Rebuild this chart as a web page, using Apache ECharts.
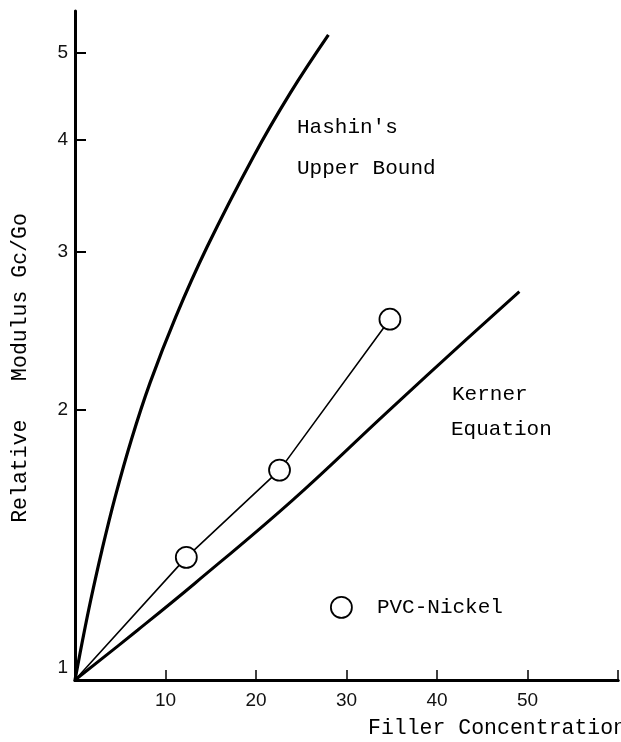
<!DOCTYPE html>
<html>
<head>
<meta charset="utf-8">
<script src="https://cdn.jsdelivr.net/npm/echarts@6/dist/echarts.min.js"></script>
<style>
  html, body { margin: 0; padding: 0; background: #fff; }
  #chart { width: 621px; height: 742px; }
</style>
</head>
<body>
<div id="chart"></div>
<script>
// Hashin's upper bound (filler concentration, relative modulus Gc/Go)
const hashinX = [0, 0.84, 1.74, 2.98, 4.44, 6.22, 8.29, 11.12, 14.59, 19.70, 23.78, 28.0];
const hashinY = [1, 1.108, 1.228, 1.396, 1.600, 1.852, 2.144, 2.539, 3.039, 3.830, 4.511, 5.238];

// Kerner equation
const kernerX = [0, 6.94, 13.26, 24.08, 34.35, 43.16, 49.1];
const kernerY = [1, 1.137, 1.282, 1.588, 1.983, 2.393, 2.710];

// Measured PVC-Nickel points (first entry is the common origin)
const pvcX = [0, 12.3, 22.6, 34.8];
const pvcY = [1, 1.37, 1.714, 2.525];

// Axis ticks
const yTickValues = [1, 2, 3, 4, 5];
const xTickLabels = [10, 20, 30, 40, 50];

const MONO = '"Liberation Mono", "DejaVu Sans Mono", monospace';
const SANS = '"Liberation Sans", Arial, sans-serif';

// The modulus axis is logarithmic: values are plotted as log10 on a linear axis
const lg = v => Math.log10(v);
const toPairs = (xs, ys) => xs.map((x, i) => [x, lg(ys[i])]);
const yMin = 0;
const yMax = lg(5.57);
const yTicks = yTickValues.map(lg);

const chart = echarts.init(document.getElementById('chart'), null, { renderer: 'canvas' });

const option = {
  animation: false,
  backgroundColor: '#fff',
  grid: { left: 75, top: 11, width: 545, height: 669 },
  xAxis: [
    {
      type: 'value', min: 0, max: 60, interval: 10,
      axisLine: { show: true, lineStyle: { color: '#000', width: 3 } },
      axisTick: { show: true, inside: true, length: 10, lineStyle: { color: '#000', width: 1.5 } },
      axisLabel: {
        margin: 11, color: '#111', fontFamily: SANS, fontSize: 19,
        formatter: v => (xTickLabels.indexOf(v) >= 0 ? String(v) : '')
      },
      splitLine: { show: false }
    },
    {
      type: 'value', position: 'top', min: 0, max: 60,
      axisLine: { show: true, lineStyle: { color: '#000', width: 3 } },
      axisTick: { show: false }, axisLabel: { show: false }, splitLine: { show: false }
    }
  ],
  yAxis: [
    {
      type: 'value', min: yMin, max: yMax,
      axisLine: { show: true, lineStyle: { color: '#000', width: 3 } },
      axisTick: { show: true, inside: true, length: 11, customValues: yTicks, lineStyle: { color: '#000', width: 2 } },
      axisLabel: {
        customValues: yTicks, margin: 7, color: '#111', fontFamily: SANS, fontSize: 19,
        formatter: v => {
          const n = Math.round(Math.pow(10, v));
          return n === 1 ? '{lo|1}' : String(n);
        },
        rich: { lo: { fontFamily: SANS, fontSize: 19, color: '#111', padding: [0, 0, 24, 0] } }
      },
      splitLine: { show: false }
    },
    {
      type: 'value', position: 'right', min: yMin, max: yMax,
      axisLine: { show: true, lineStyle: { color: '#000', width: 1.5 } },
      axisTick: { show: false }, axisLabel: { show: false }, splitLine: { show: false }
    }
  ],
  legend: {
    data: ['PVC-Nickel'],
    left: 330, top: 596, padding: 0,
    icon: 'circle', itemWidth: 21, itemHeight: 21,
    itemStyle: { color: '#fff', borderColor: '#000', borderWidth: 1.8 },
    textStyle: { fontFamily: MONO, fontSize: 21, color: '#000', padding: [0, 0, 0, 20] }
  },
  series: [
    {
      name: "Hashin's Upper Bound", type: 'line', smooth: 0.4, symbol: 'none',
      lineStyle: { color: '#000', width: 3.2 },
      data: toPairs(hashinX, hashinY)
    },
    {
      name: 'Kerner Equation', type: 'line', smooth: 0.4, symbol: 'none',
      lineStyle: { color: '#000', width: 3 },
      data: toPairs(kernerX, kernerY)
    },
    {
      name: 'PVC-Nickel', type: 'line', z: 5,
      symbol: 'circle', symbolSize: 21,
      itemStyle: { color: '#fff', borderColor: '#000', borderWidth: 1.8 },
      lineStyle: { color: '#000', width: 1.6 },
      data: toPairs(pvcX, pvcY).map((p, i) => (i === 0 ? { value: p, symbol: 'none' } : p))
    }
  ],
  graphic: [
    { type: 'text', left: 297, top: 117, style: { text: "Hashin's", font: '21px ' + MONO, fill: '#000' } },
    { type: 'text', left: 297, top: 158, style: { text: 'Upper Bound', font: '21px ' + MONO, fill: '#000' } },
    { type: 'text', left: 452, top: 384, style: { text: 'Kerner', font: '21px ' + MONO, fill: '#000' } },
    { type: 'text', left: 451, top: 419, style: { text: 'Equation', font: '21px ' + MONO, fill: '#000' } },
    { type: 'text', left: 368, top: 717, style: { text: 'Filler Concentration', font: '21.5px ' + MONO, fill: '#000' } },
    {
      type: 'text', x: 20, y: 368, rotation: Math.PI / 2,
      style: { text: 'Relative   Modulus Gc/Go', font: '21.5px ' + MONO, fill: '#000', align: 'center', verticalAlign: 'middle' }
    }
  ]
};

chart.setOption(option);
</script>
</body>
</html>
